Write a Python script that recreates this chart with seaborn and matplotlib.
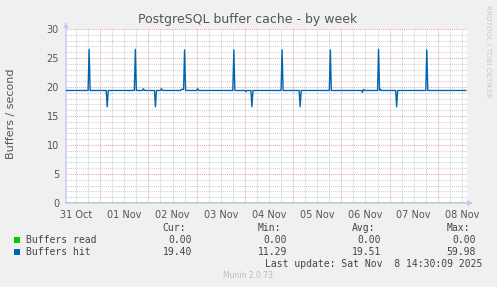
import numpy as np
import pandas as pd
import matplotlib
matplotlib.use("Agg")
import matplotlib.pyplot as plt
import seaborn as sns

# ---- data (hours since 31 Oct 00:00) ----
hit_times = [7.0, 18.0, 18.5, 19.0, 27.0, 27.5, 28.0, 41.0, 41.5, 42.0,
             45.0, 45.5, 46.0, 51.0, 51.5, 52.0, 54.0, 54.5, 55.0,
             64.0, 64.5, 65.5, 66.0, 66.5, 72.0, 72.5, 73.0,
             90.0, 90.5, 91.0, 96.0, 96.5, 97.0, 99.0, 99.5, 100.0,
             114.0, 114.5, 115.0, 123.0, 123.5, 124.0, 138.0, 138.5, 139.0,
             154.0, 154.5, 155.0, 155.5, 162.0, 162.5, 163.0, 163.5, 164.0,
             171.0, 171.5, 172.0, 186.0, 186.5, 187.0, 206.0]
hit_values = [19.4, 19.4, 26.5, 19.4, 19.4, 16.6, 19.4, 19.4, 26.5, 19.4,
              19.4, 19.7, 19.4, 19.4, 16.6, 19.4, 19.4, 19.7, 19.4,
              19.4, 19.6, 19.6, 26.4, 19.4, 19.4, 19.7, 19.4,
              19.4, 26.4, 19.4, 19.4, 19.2, 19.4, 19.4, 16.6, 19.4,
              19.4, 26.4, 19.4, 19.4, 16.6, 19.4, 19.4, 26.4, 19.4,
              19.4, 19.1, 19.6, 19.4, 19.4, 26.5, 19.4, 19.6, 19.4,
              19.4, 16.6, 19.4, 19.4, 26.4, 19.4, 19.4]
read_times = [7.0, 206.0]
read_values = [0.0, 0.0]

day_labels = ["31 Oct", "01 Nov", "02 Nov", "03 Nov", "04 Nov",
              "05 Nov", "06 Nov", "07 Nov", "08 Nov"]
label_hours = [12, 36, 60, 84, 108, 132, 156, 180, 204]

series_names = ["Buffers read", "Buffers hit"]
series_colors = ["#00cc00", "#0066b3"]
cur_vals = ["0.00", "19.40"]
min_vals = ["0.00", "11.29"]
avg_vals = ["0.00", "19.51"]
max_vals = ["0.00", "59.98"]

W, H = 497, 287
sns.set_style("white")
plt.rcParams['font.family'] = ['DejaVu Sans']

fig = plt.figure(figsize=(W / 100, H / 100), dpi=100, facecolor="#f0f0f0")
L, R, T, B = 66, 467, 29, 203
ax = fig.add_axes([L / W, 1 - B / H, (R - L) / W, (B - T) / H])
ax.set_facecolor("white")

XMIN, XMAX = 7.0, 206.5
ax.set_xlim(XMIN, XMAX)
ax.set_ylim(0, 30)

# grid
minor_c = "#cfcfcf"
major_c = "#eaa8a8"
dot = (0, (1, 1))
glw = 0.75
for y in range(1, 31):
    if y % 5:
        ax.axhline(y, color=minor_c, lw=glw, ls=dot, zorder=0)
for y in range(5, 31, 5):
    ax.axhline(y, color=major_c, lw=glw, ls=dot, zorder=0.5)
for h in range(12, 207, 6):
    if h % 24:
        ax.axvline(h, color=minor_c, lw=glw, ls=dot, zorder=0)
for h in range(24, 207, 24):
    ax.axvline(h, color=major_c, lw=glw, ls=dot, zorder=0.5)

sns.lineplot(x=read_times, y=read_values, color=series_colors[0], lw=1,
             ax=ax, estimator=None, zorder=3)
sns.lineplot(x=hit_times, y=hit_values, color=series_colors[1], lw=1,
             ax=ax, estimator=None, zorder=4)

for s in ax.spines.values():
    s.set_visible(False)

# axis lines with arrows
axis_c = "#c8c8f0"
ax.annotate("", xy=(0, 1.04), xytext=(0, 0), xycoords="axes fraction",
            arrowprops=dict(arrowstyle="-|>", color=axis_c, lw=1,
                            mutation_scale=7, shrinkA=0, shrinkB=0),
            zorder=2, annotation_clip=False)
ax.annotate("", xy=(1.015, 0), xytext=(0, 0), xycoords="axes fraction",
            arrowprops=dict(arrowstyle="-|>", color=axis_c, lw=1,
                            mutation_scale=7, shrinkA=0, shrinkB=0),
            zorder=2, annotation_clip=False)

ax.set_yticks(range(0, 31, 5))
ax.set_yticklabels([str(v) for v in range(0, 31, 5)])
ax.set_xticks(label_hours)
ax.set_xticklabels(day_labels)
ax.tick_params(axis="both", length=0, labelsize=7, colors="#555555")
ax.tick_params(axis="y", pad=5)
ax.tick_params(axis="x", pad=5)
ax.set_xlabel("")
ax.set_ylabel("")

def fx(px):
    return px / W

def fy(py):
    return 1 - py / H

fig.text(fx(248), fy(19), "PostgreSQL buffer cache - by week", ha="center",
         va="center", fontsize=9, color="#555555")
fig.text(fx(11), fy(114), "Buffers / second", rotation=90, ha="center",
         va="center", fontsize=8, color="#555555")
fig.text(fx(488), fy(5), "RRDTOOL / TOBI OETIKER", rotation=270, ha="center",
         va="top", fontsize=5.2, color="#c8c8c8")

mono = "DejaVu Sans Mono"
fs = 7
tc = "#444444"
head_y = 228
cols = [(186, 192, "Cur:", cur_vals), (281, 287, "Min:", min_vals),
        (375, 381, "Avg:", avg_vals), (470, 476, "Max:", max_vals)]
for hx, vx, head, vals in cols:
    fig.text(fx(hx), fy(head_y), head, ha="right", va="center",
             family=mono, fontsize=fs, color=tc)
    for i, v in enumerate(vals):
        fig.text(fx(vx), fy(240 + 12 * i), v, ha="right", va="center",
                 family=mono, fontsize=fs, color=tc)
for i, (name, col) in enumerate(zip(series_names, series_colors)):
    yy = 240 + 12 * i
    fig.patches.append(plt.Rectangle((fx(14), fy(yy + 3)), 6 / W, 6 / H,
                                     transform=fig.transFigure,
                                     facecolor=col, edgecolor="none"))
    fig.text(fx(26), fy(yy), name, ha="left", va="center",
             family=mono, fontsize=fs, color=tc)
fig.text(fx(482), fy(264), "Last update: Sat Nov  8 14:30:09 2025",
         ha="right", va="center", family=mono, fontsize=fs, color=tc)
fig.text(fx(248), fy(276), "Munin 2.0.73", ha="center", va="center",
         fontsize=5.5, color="#bbbbbb")

fig.savefig("out.png", dpi=100, facecolor=fig.get_facecolor())
